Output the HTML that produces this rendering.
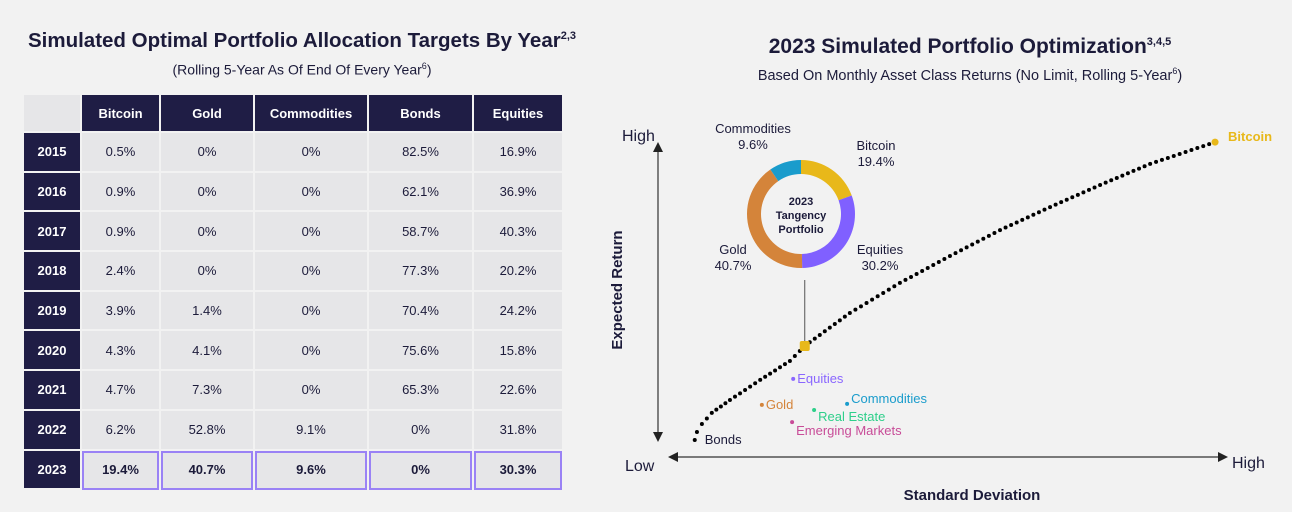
<!DOCTYPE html>
<html><head><meta charset="utf-8"><style>
body{margin:0;width:1292px;height:512px;background:#f2f2f2;font-family:"Liberation Sans",sans-serif;color:#1c1b3a;overflow:hidden;position:relative}
.t{position:absolute;text-align:center;white-space:nowrap}
table{position:absolute;left:24px;top:95px;border-collapse:separate;border-spacing:2px 0;margin-left:-2px}
td,th{height:37.7px;border-bottom:2px solid #f2f2f2;text-align:center;font-size:13px;padding:0}
th{background:#1f1d45;color:#fff;font-weight:bold;font-size:13px;height:36px}
th.e{background:#e6e6e8}
td{background:#e6e6e8;color:#1c1b3a}
td.y{background:#1f1d45;color:#fff;font-weight:bold}
tr.hl td:not(.y){font-weight:bold;outline:2px solid #9a82f5;outline-offset:-2px}
</style></head><body>
<div class="t" style="left:0;width:604px;top:29px;font-size:20.5px;font-weight:bold">Simulated Optimal Portfolio Allocation Targets By Year<sup style="font-size:11px">2,3</sup></div>
<div class="t" style="left:0;width:604px;top:61px;font-size:14px">(Rolling 5-Year As Of End Of Every Year<sup style="font-size:9px">6</sup>)</div>
<table>
<tr><th class="e" style="width:56px"></th><th style="width:77px">Bitcoin</th><th style="width:92px">Gold</th><th style="width:112px">Commodities</th><th style="width:103px">Bonds</th><th style="width:88px">Equities</th></tr>
<tr><td class="y">2015</td><td>0.5%</td><td>0%</td><td>0%</td><td>82.5%</td><td>16.9%</td></tr>
<tr><td class="y">2016</td><td>0.9%</td><td>0%</td><td>0%</td><td>62.1%</td><td>36.9%</td></tr>
<tr><td class="y">2017</td><td>0.9%</td><td>0%</td><td>0%</td><td>58.7%</td><td>40.3%</td></tr>
<tr><td class="y">2018</td><td>2.4%</td><td>0%</td><td>0%</td><td>77.3%</td><td>20.2%</td></tr>
<tr><td class="y">2019</td><td>3.9%</td><td>1.4%</td><td>0%</td><td>70.4%</td><td>24.2%</td></tr>
<tr><td class="y">2020</td><td>4.3%</td><td>4.1%</td><td>0%</td><td>75.6%</td><td>15.8%</td></tr>
<tr><td class="y">2021</td><td>4.7%</td><td>7.3%</td><td>0%</td><td>65.3%</td><td>22.6%</td></tr>
<tr><td class="y">2022</td><td>6.2%</td><td>52.8%</td><td>9.1%</td><td>0%</td><td>31.8%</td></tr>
<tr class="hl"><td class="y">2023</td><td>19.4%</td><td>40.7%</td><td>9.6%</td><td>0%</td><td>30.3%</td></tr>
</table>
<div class="t" style="left:660px;width:620px;top:35px;font-size:21px;font-weight:bold">2023 Simulated Portfolio Optimization<sup style="font-size:11px">3,4,5</sup></div>
<div class="t" style="left:660px;width:620px;top:66px;font-size:14.5px">Based On Monthly Asset Class Returns (No Limit, Rolling 5-Year<sup style="font-size:9px">6</sup>)</div>
<svg id="c" width="1292" height="512" style="position:absolute;left:0;top:0" font-family="Liberation Sans, sans-serif"></svg>
<script>
const frontierSD=[4.5,4.9,5.8,7.6,10.9,16.4,21.8,24.5,32.7,41.8,50.9,60,69.1,78.2,87.3,99.1];
const frontierRet=[5.3,7.8,10.3,13.8,17.8,24.1,30,34.7,45,54.4,62.8,70.9,78.1,85,91.6,98.4];
const assetNames=["Equities","Gold","Real Estate","Commodities","Emerging Markets"];
const assetSD=[22.4,16.7,26.2,32.2,22.2];
const assetRet=[24.4,16.3,14.7,16.6,10.9];
const assetColors=["#8a66ff","#d4843a","#2ecf8a","#1a9ccc","#c84c98"];
const labelDy=[4,4,11,-1,13];
const donutLabels=["Bitcoin","Equities","Gold","Commodities"];
const donutValues=[19.4,30.2,40.7,9.6];
const donutColors=["#e8b81a","#8060ff","#d4843a","#1a9ccc"];
const tangency=[24.5,34.7];
const X=v=>670+v*5.5, Y=v=>457-v*3.2;
const svg=document.getElementById('c');const NS='http://www.w3.org/2000/svg';
function mk(t,a,txt){const e=document.createElementNS(NS,t);for(const k in a)e.setAttribute(k,a[k]);if(txt!=null)e.textContent=txt;svg.appendChild(e);return e;}
let e;
e=mk('line',{x1:658,y1:152,x2:658,y2:432,stroke:'#333','stroke-width':1.2});


mk('path',{d:'M653,152 L658,142 L663,152 Z',fill:'#222'});
mk('path',{d:'M653,432 L658,442 L663,432 Z',fill:'#222'});
e=mk('line',{x1:678,y1:457,x2:1218,y2:457,stroke:'#333','stroke-width':1.2});


mk('path',{d:'M678,452 L668,457 L678,462 Z',fill:'#222'});
mk('path',{d:'M1218,452 L1228,457 L1218,462 Z',fill:'#222'});
e=mk('text',{x:622,y:141,'font-size':16,fill:'#1c1b3a'},'High');


e=mk('text',{x:625,y:471,'font-size':16,fill:'#1c1b3a'},'Low');


e=mk('text',{x:1232,y:468,'font-size':16,fill:'#1c1b3a'},'High');


e=mk('text',{x:972,y:500,'font-size':15,'font-weight':'bold','text-anchor':'middle',fill:'#1c1b3a'},'Standard Deviation');


e=mk('text',{x:622,y:290,'font-size':15,'font-weight':'bold','text-anchor':'middle',fill:'#1c1b3a',transform:'rotate(-90 622 290)'},'Expected Return');


for(let i=0;i<frontierSD.length-1;i++){
 const x1=X(frontierSD[i]),y1=Y(frontierRet[i]),x2=X(frontierSD[i+1]),y2=Y(frontierRet[i+1]);
 const d=Math.hypot(x2-x1,y2-y1),n=Math.max(1,Math.round(d/6.3));
 for(let k=0;k<n;k++){const t=k/n;
  e=mk('circle',{cx:x1+(x2-x1)*t,cy:y1+(y2-y1)*t,r:2,fill:'#000'});
  
  }
}
e=mk('circle',{cx:X(frontierSD[frontierSD.length-1]),cy:Y(frontierRet[frontierRet.length-1]),r:3.5,fill:'#e8b81a'});


e=mk('text',{x:X(frontierSD[frontierSD.length-1])+13,y:Y(frontierRet[frontierRet.length-1])-1,'font-size':13,'font-weight':'bold',fill:'#e8b81a'},'Bitcoin');


e=mk('text',{x:X(frontierSD[0])+10,y:Y(frontierRet[0])+4,'font-size':13,fill:'#1c1b3a'},'Bonds');


assetNames.forEach((n,i)=>{
 e=mk('circle',{cx:X(assetSD[i]),cy:Y(assetRet[i]),r:2,fill:assetColors[i]});
 
 
 e=mk('text',{x:X(assetSD[i])+4,y:Y(assetRet[i])+labelDy[i],'font-size':13,fill:assetColors[i]},n);
 
 
});
const tx=X(tangency[0]),ty=Y(tangency[1]);
e=mk('line',{x1:tx,y1:280,x2:tx,y2:ty-4,stroke:'#555','stroke-width':1});


e=mk('rect',{x:tx-5,y:ty-5,width:10,height:10,rx:2,fill:'#e8b81a'});


const cx=801,cy=214,R=54,r=40,tot=donutValues.reduce((a,b)=>a+b,0);
let a0=-Math.PI/2;
const lblPos=[[876,150],[880,254],[733,254],[753,133]];
donutValues.forEach((v,i)=>{
 const a1=a0+v/tot*2*Math.PI,lg=(a1-a0)>Math.PI?1:0;
 const p=(rr,a)=>[cx+rr*Math.cos(a),cy+rr*Math.sin(a)];
 const [x1,y1]=p(R,a0),[x2,y2]=p(R,a1),[x3,y3]=p(r,a1),[x4,y4]=p(r,a0);
 e=mk('path',{d:`M${x1},${y1} A${R},${R} 0 ${lg} 1 ${x2},${y2} L${x3},${y3} A${r},${r} 0 ${lg} 0 ${x4},${y4} Z`,fill:donutColors[i]});
 
 
 const [lx,ly]=lblPos[i];
 e=mk('text',{x:lx,y:ly,'font-size':13,'text-anchor':'middle',fill:'#1c1b3a'},donutLabels[i]);
 
 
 e=mk('text',{x:lx,y:ly+16,'font-size':13,'text-anchor':'middle',fill:'#1c1b3a'},v.toFixed(1)+'%');
 
 
 a0=a1;
});
['2023','Tangency','Portfolio'].forEach((s,i)=>{
 e=mk('text',{x:cx,y:205+i*14,'font-size':11,'font-weight':'bold','text-anchor':'middle',fill:'#1c1b3a'},s);
 
 
});
</script>
</body></html>
